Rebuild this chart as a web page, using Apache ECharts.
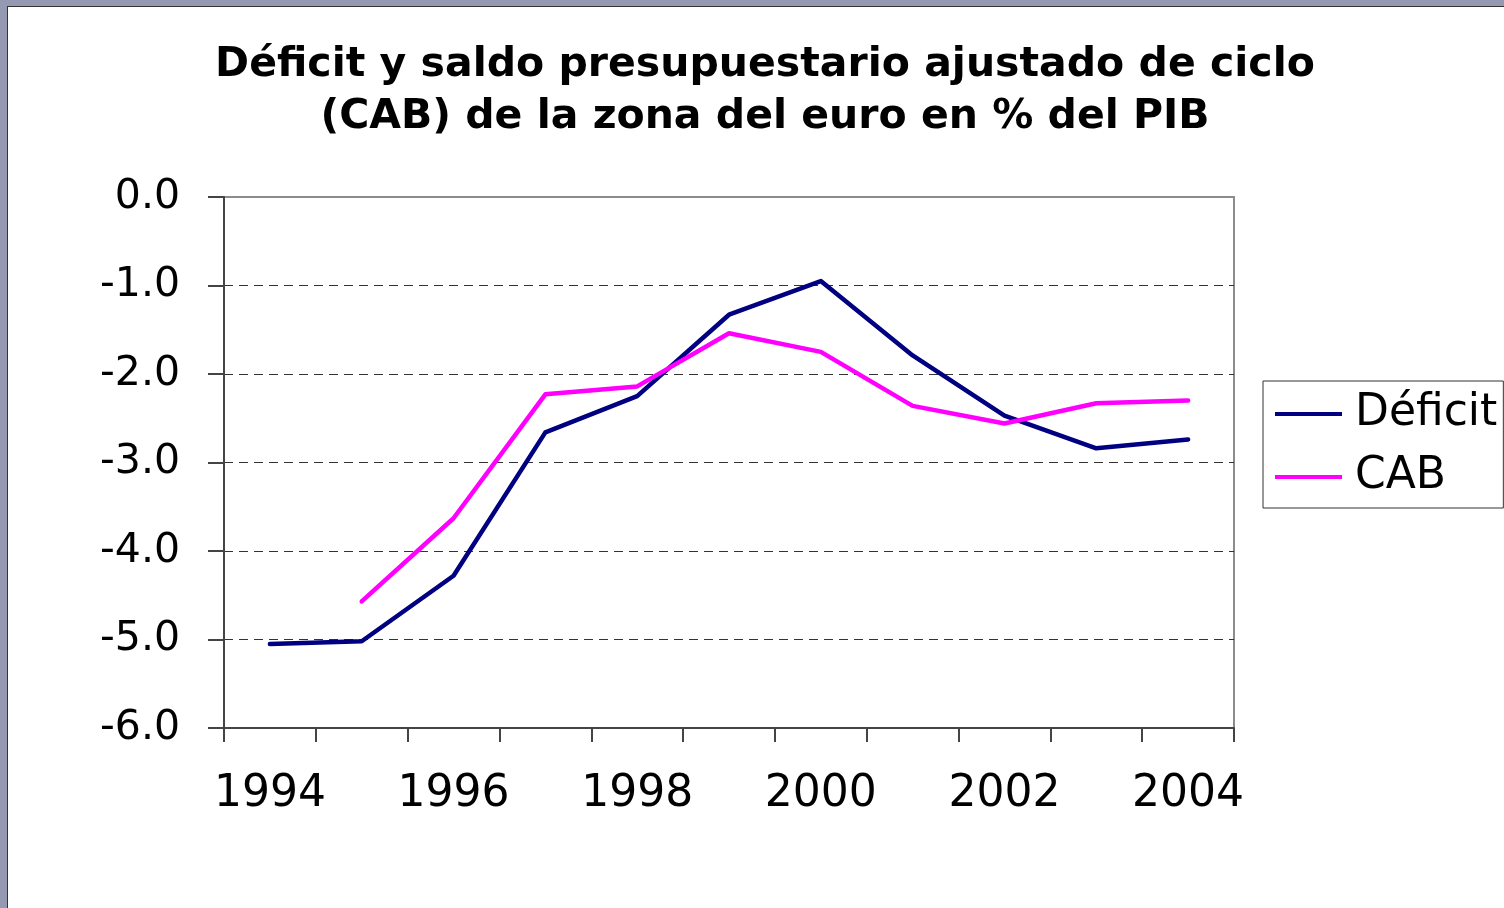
<!DOCTYPE html>
<html>
<head>
<meta charset="utf-8">
<script src="https://cdn.jsdelivr.net/npm/echarts@6/dist/echarts.min.js"></script>
<style>
  html, body { margin: 0; padding: 0; width: 1504px; height: 908px; overflow: hidden; background: #9699b2; }
  #chart { position: absolute; left: 7px; top: 6px; width: 1496px; height: 901px; background: #ffffff; border-left: 1px solid #333; border-top: 1px solid #333; }
</style>
</head>
<body>
<div id="chart"></div>
<script>
const titleLines = ['Déficit y saldo presupuestario ajustado de ciclo', '(CAB) de la zona del euro en % del PIB'];
const years = ['1994', '1995', '1996', '1997', '1998', '1999', '2000', '2001', '2002', '2003', '2004'];
const deficit = [-5.05, -5.02, -4.28, -2.66, -2.25, -1.33, -0.95, -1.79, -2.47, -2.84, -2.74];
const cab = [null, -4.57, -3.63, -2.23, -2.14, -1.54, -1.75, -2.36, -2.56, -2.33, -2.30];
const seriesNames = ['Déficit', 'CAB'];

const chart = echarts.init(document.getElementById('chart'), null, { renderer: 'canvas' });
chart.setOption({
  animation: false,
  title: {
    text: titleLines.join('\n'),
    left: 752,
    top: 27,
    textAlign: 'center',
    textStyle: { fontFamily: 'DejaVu Sans', fontWeight: 'bold', fontSize: 41, lineHeight: 52, color: '#000' }
  },
  legend: {
    orient: 'vertical',
    left: 1255,
    top: 374,
    data: seriesNames,
    icon: 'rect',
    itemWidth: 67,
    itemHeight: 4,
    itemGap: 13,
    padding: [8, 6, 6, 12],
    borderColor: '#333',
    borderWidth: 1,
    textStyle: { fontFamily: 'DejaVu Sans', fontSize: 44, lineHeight: 50, color: '#000', padding: [0, 0, 0, 8] }
  },
  grid: {
    left: 216, top: 190, width: 1010, height: 531,
    show: true, borderColor: '#8c8c8c', borderWidth: 2, backgroundColor: 'transparent'
  },
  xAxis: {
    type: 'category',
    data: years,
    boundaryGap: true,
    axisLine: { onZero: false, lineStyle: { color: '#444', width: 2 } },
    axisTick: { show: true, interval: 0, length: 14, lineStyle: { color: '#444', width: 2 } },
    axisLabel: { interval: 1, margin: 45, fontFamily: 'DejaVu Sans', fontSize: 44, color: '#000' },
    splitLine: { show: false }
  },
  yAxis: {
    type: 'value',
    min: -6, max: 0, interval: 1,
    axisLine: { show: true, lineStyle: { color: '#444', width: 2 } },
    axisTick: { show: true, length: 16, lineStyle: { color: '#444', width: 2 } },
    axisLabel: { margin: 44, padding: [6, 0, 0, 0], fontFamily: 'DejaVu Sans', fontSize: 41, color: '#000', formatter: v => v.toFixed(1) },
    splitLine: { show: true, showMinLine: false, showMaxLine: false, lineStyle: { color: '#333', width: 1, type: [9, 6] } }
  },
  series: [
    { name: seriesNames[0], type: 'line', data: deficit, symbol: 'none', lineStyle: { color: '#000080', width: 4.5, cap: 'round', join: 'round' }, itemStyle: { color: '#000080' } },
    { name: seriesNames[1], type: 'line', data: cab, symbol: 'none', lineStyle: { color: '#ff00ff', width: 4.5, cap: 'round', join: 'round' }, itemStyle: { color: '#ff00ff' } }
  ]
});
</script>
</body>
</html>
